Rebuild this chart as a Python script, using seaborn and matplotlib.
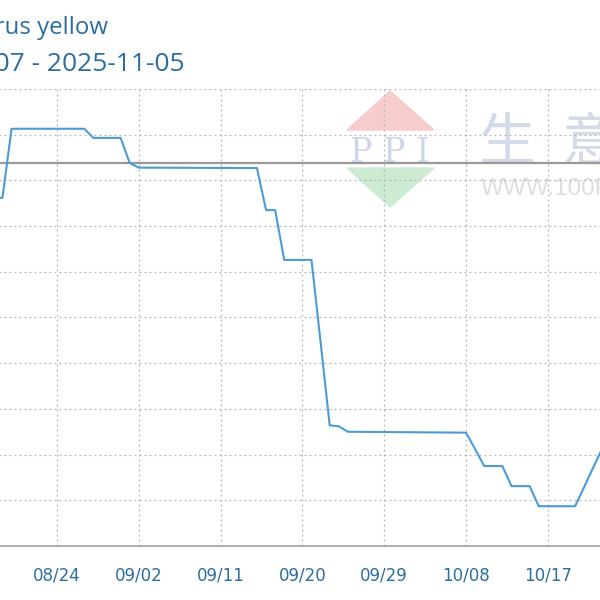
import numpy as np
import pandas as pd
import seaborn as sns
import matplotlib.pyplot as plt
from matplotlib.patches import Polygon

# price readings (vertices of the trend line)
dates = ["2025-08-16", "2025-08-18", "2025-08-19", "2025-08-27", "2025-08-28",
         "2025-08-31", "2025-09-01", "2025-09-02", "2025-09-15", "2025-09-16",
         "2025-09-17", "2025-09-18", "2025-09-21", "2025-09-22", "2025-09-23",
         "2025-09-24", "2025-09-25", "2025-10-08", "2025-10-09", "2025-10-10",
         "2025-10-12", "2025-10-13", "2025-10-15", "2025-10-16", "2025-10-20",
         "2025-10-21", "2025-10-22", "2025-10-23"]
prices = [33810, 33810, 34565, 34565, 34465,
          34465, 34190, 34140, 34135, 33675,
          33675, 33130, 33130, 32230, 31320,
          31310, 31250, 31240, 31060, 30875,
          30875, 30655, 30655, 30435, 30435,
          30645, 30860, 31070]
ref_level = 34190

title = "Citrus yellow"
period = "2025-08-07 - 2025-11-05"
tick_dates = ["2025-08-15", "2025-08-24", "2025-09-02", "2025-09-11", "2025-09-20",
              "2025-09-29", "2025-10-08", "2025-10-17", "2025-10-26", "2025-11-04"]
y_ticks = list(range(30000, 35001, 500))

df = pd.DataFrame({"date": pd.to_datetime(dates), "price": prices})

sns.set_theme(style="white")
plt.rcParams["font.family"] = ["DejaVu Sans", "Noto Sans CJK SC"]

fig = plt.figure(figsize=(6, 6), dpi=100)
fig.patch.set_facecolor("white")
W = H = 600.0

# axes runs past the picture on both sides (cropped chart)
ax = fig.add_axes([-97.5 / W, 54 / H, 818 / W, 457 / H])
ax.set_facecolor("none")

sns.lineplot(data=df, x="date", y="price", ax=ax, color="#4c9bd4", linewidth=1.5, zorder=3)
ax.axhline(ref_level, color="#9c9894", linewidth=1.6, zorder=2)

ax.set_xlim(pd.Timestamp("2025-08-07"), pd.Timestamp("2025-11-05"))
ax.set_ylim(y_ticks[0], y_ticks[-1])
ax.set_xticks(pd.to_datetime(tick_dates))
ax.set_xticklabels([pd.Timestamp(d).strftime("%m/%d") for d in tick_dates])
ax.set_yticks(y_ticks)
ax.set_xlabel("")
ax.set_ylabel("")
ax.grid(True, color="#b5b5b5", linestyle=(0, (1.5, 2.5)), linewidth=0.9)
ax.tick_params(axis="both", length=0, colors="#2c6e9e", labelsize=12)
ax.tick_params(axis="x", pad=15)
for side in ["top", "right", "left"]:
    ax.spines[side].set_visible(False)
ax.spines["bottom"].set_color("#a0a0a0")
ax.spines["bottom"].set_linewidth(1.2)

# watermark behind the axes
def px(x, y):
    return (x / W, 1 - y / H)

wm = [
    Polygon([px(390, 91), px(347, 130), px(434, 130)], closed=True, color="#f6cccc"),
    Polygon([px(347, 168), px(434, 168), px(390, 207)], closed=True, color="#cdebd2"),
]
for p in wm:
    p.set_transform(fig.transFigure)
    p.set_zorder(-1)
    fig.add_artist(p)
fig.text(*px(390, 162), "P P I", ha="center", va="baseline", fontsize=24,
         family="DejaVu Serif", color="#ccd7ea", zorder=-1)
fig.text(*px(507, 160), "生", ha="center", va="baseline", fontsize=41,
         family="Noto Sans CJK SC", color="#d3dbe8", zorder=-1)
fig.text(*px(590, 160), "意", ha="center", va="baseline", fontsize=41,
         family="Noto Sans CJK SC", color="#d3dbe8", zorder=-1)
fig.text(*px(481, 195), "WWW.100PPI.COM", ha="left", va="baseline", fontsize=17.5,
         family="Liberation Sans", color="#dedede", zorder=-1)

# title, cut off at the left edge
fig.text(*px(108, 34), title, ha="right", va="baseline", fontsize=17.3,
         family="Open Sans", color="#2c6e9e")
fig.text(*px(185, 71), period, ha="right", va="baseline", fontsize=19,
         family="Open Sans", color="#2c6e9e")

fig.savefig("out.png", dpi=100)
